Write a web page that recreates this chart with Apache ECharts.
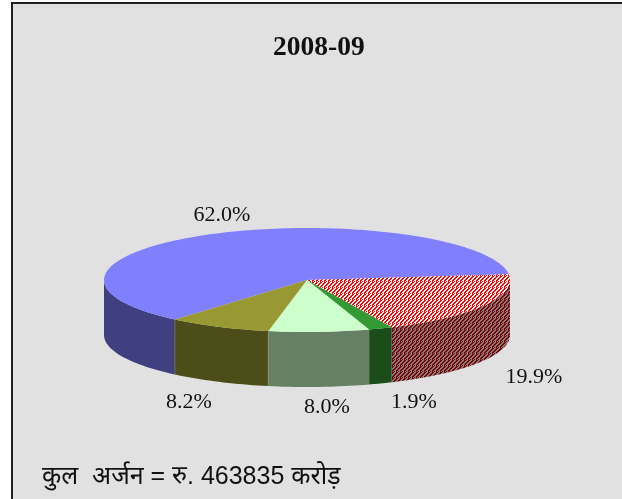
<!DOCTYPE html>
<html><head><meta charset="utf-8">
<style>html,body{margin:0;padding:0;background:#fff}#c{width:622px;height:499px}</style>
<script src="https://cdn.jsdelivr.net/npm/echarts@6/dist/echarts.min.js"></script>
</head><body><div id="c"></div>
<script>
var chartTitle = '2008-09';
var totalText = 'कुल  अर्जन = रु. 463835 करोड़';
var shares = [62.0, 19.9, 1.9, 8.0, 8.2];
var topColors = ['#8080ff', 'pattern-top', '#339933', '#ccffcc', '#999933'];
var sideColors = ['#404080', 'pattern-side', '#1a4d1a', '#668066', '#4d4d1a'];
var labelPlaces = [[222, 215], [534, 377], [414, 402], [327, 407], [189, 402]];

function tile(a, b) {
  var cv = document.createElement('canvas');
  cv.width = 4; cv.height = 6;
  var g = cv.getContext('2d');
  var rows = ['aabb', 'abba', 'bbaa', 'baab', 'aabb', 'abab'];
  for (var y = 0; y < 6; y++) for (var x = 0; x < 4; x++) {
    g.fillStyle = rows[y].charAt(x) === 'a' ? a : b;
    g.fillRect(x, y, 1, 1);
  }
  return {image: cv, repeat: 'repeat'};
}
var fills = {'pattern-top': tile('#ff0000', '#ffffff'), 'pattern-side': tile('#800000', '#808080')};
function fillOf(c) { return fills[c] || c; }

var cx = 307, cy = 280, rx = 203, ry = 52, depth = 55, startDeg = 130.5;
var total = shares.reduce(function (s, v) { return s + v; }, 0);
function pt(d, off) {
  var r = d * Math.PI / 180;
  return [cx + rx * Math.cos(r), cy + ry * Math.sin(r) + (off || 0)];
}
function arc(a, b, off) {
  var out = [], n = Math.max(2, Math.ceil((b - a) / 1.5));
  for (var i = 0; i <= n; i++) out.push(pt(a + (b - a) * i / n, off));
  return out;
}
function renderItem(params, api) {
  var i = params.dataIndex, before = 0;
  for (var k = 0; k < i; k++) before += shares[k];
  var a = startDeg + before / total * 360;
  var b = a + api.value(0) / total * 360;
  var children = [];
  [[0, 180], [360, 540]].forEach(function (w) {
    var s = Math.max(a, w[0]), e = Math.min(b, w[1]);
    if (e <= s) return;
    var pts = arc(s, e, 0).concat(arc(s, e, depth).reverse());
    children.push({type: 'polygon', shape: {points: pts}, style: {fill: fillOf(sideColors[i])}});
    if (i === 4 || i === 0) {
      var x = pt(s, 0);
      children.push({type: 'line', shape: {x1: x[0], y1: x[1], x2: x[0], y2: x[1] + depth},
        style: {stroke: '#8f8f6a', lineWidth: 1}});
    }
  });
  children.push({type: 'polygon', shape: {points: [[cx, cy]].concat(arc(a, b, 0))},
    style: {fill: fillOf(topColors[i])}});
  return {type: 'group', children: children};
}

var graphics = [
  {type: 'rect', shape: {x: 11, y: 2, width: 611, height: 497}, style: {fill: '#231f20'}, z: 0},
  {type: 'rect', shape: {x: 13, y: 4, width: 609, height: 495}, style: {fill: '#e1e1e1'}, z: 0},
  {type: 'text', x: 42, y: 477, z: 10, style: {text: totalText, fill: '#111',
    font: '25px "Liberation Sans", "Noto Sans", sans-serif', textVerticalAlign: 'middle'}}
];
shares.forEach(function (v, i) {
  graphics.push({type: 'text', x: labelPlaces[i][0], y: labelPlaces[i][1], z: 10,
    style: {text: v.toFixed(1) + '%', fill: '#111', font: '22px "Liberation Serif", serif',
      textAlign: 'center', textVerticalAlign: 'middle'}});
});

var chart = echarts.init(document.getElementById('c'), null, {renderer: 'canvas'});
chart.setOption({
  animation: false,
  backgroundColor: '#ffffff',
  title: {text: chartTitle, left: 268, top: 29,
    textStyle: {fontFamily: '"Liberation Serif", serif', fontWeight: 'bold', fontSize: 27.5, color: '#111'}},
  graphic: graphics,
  xAxis: {show: false}, yAxis: {show: false},
  series: [{type: 'custom', coordinateSystem: 'none', silent: true, renderItem: renderItem, z: 5,
    data: shares.map(function (v) { return [v]; })}]
});
</script></body></html>
